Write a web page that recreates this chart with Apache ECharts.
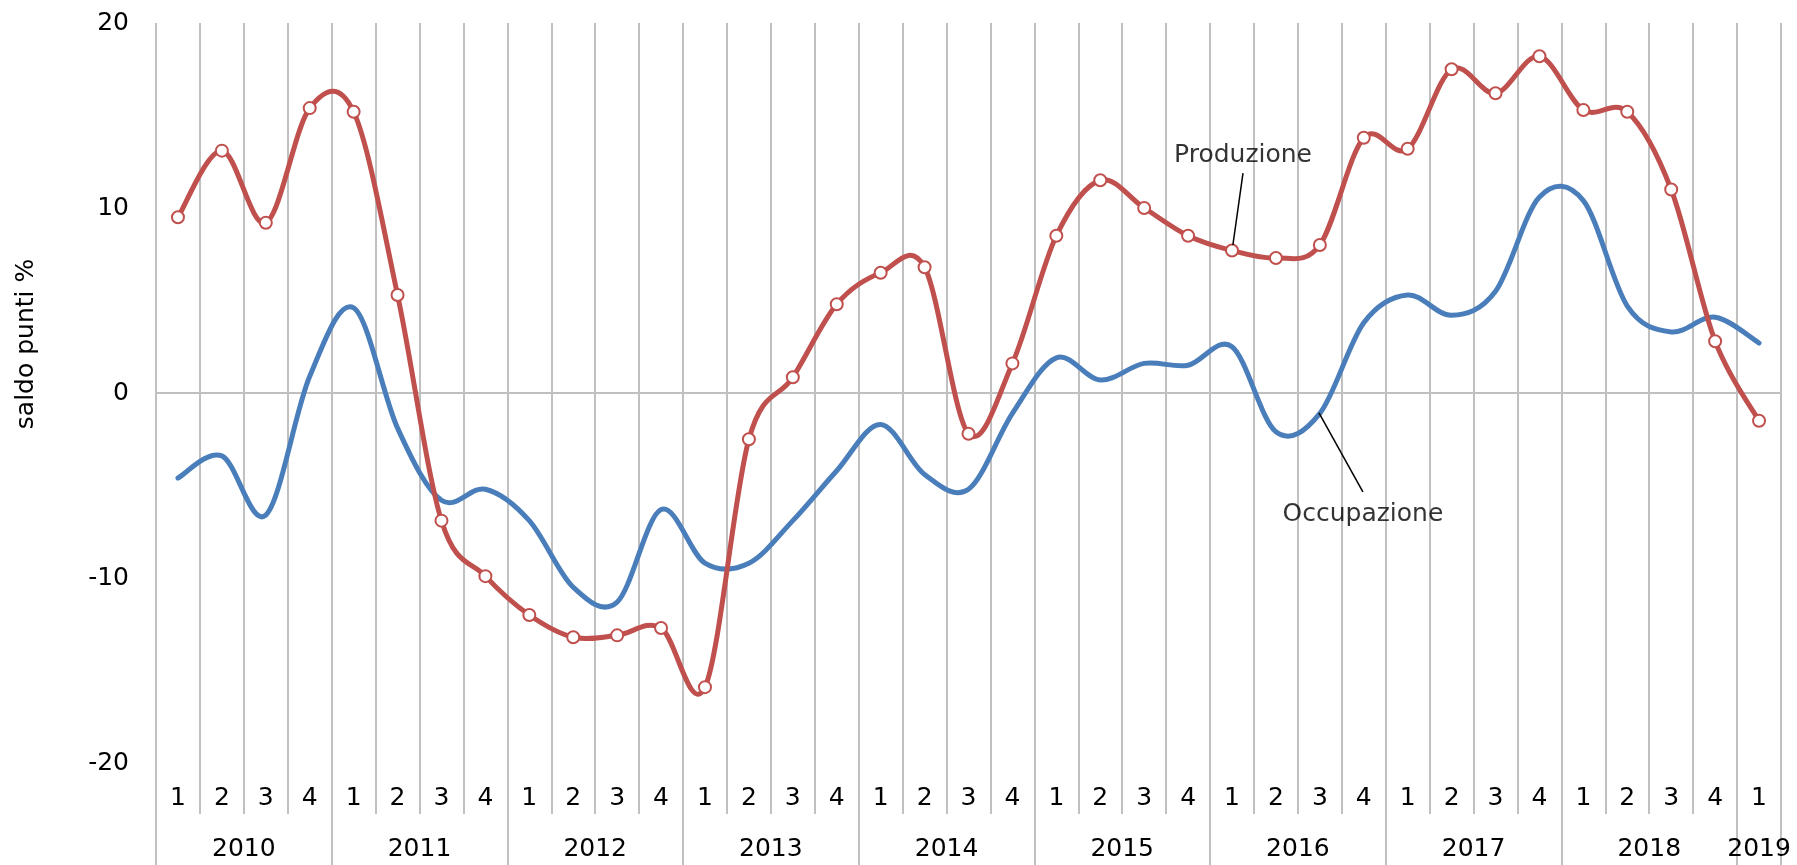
<!DOCTYPE html>
<html>
<head>
<meta charset="utf-8">
<script src="https://cdn.jsdelivr.net/npm/echarts@6/dist/echarts.min.js"></script>
<style>
html,body{margin:0;padding:0;background:#fff;}
#chart{width:1797px;height:865px;}
</style>
</head>
<body>
<div id="chart"></div>
<script>
// ---- data ----
const years = ['2010','2011','2012','2013','2014','2015','2016','2017','2018','2019'];
const quartersPerYear = [4,4,4,4,4,4,4,4,4,1];
const yTicks = {min:-20, max:20, interval:10};
const axisName = 'saldo punti %';

const produzione = [9.5, 13.1, 9.2, 15.4, 15.2, 5.3, -6.9, -9.9, -12.0, -13.2, -13.1, -12.7, -15.9,
  -2.5, 0.85, 4.8, 6.5, 6.8, -2.2, 1.6, 8.5, 11.5, 10.0, 8.5, 7.7, 7.3, 8.0,
  13.8, 13.2, 17.5, 16.2, 18.2, 15.3, 15.2, 11.0, 2.8, -1.5];
const occupazione = [-4.6, -3.4, -6.6, 0.9, 4.6, -1.9, -5.8, -5.2, -6.9, -10.5, -11.3, -6.3, -9.2,
  -9.2, -6.9, -4.2, -1.7, -4.4, -5.2, -1.1, 1.9, 0.7, 1.6, 1.5, 2.5, -2.1, -1.1,
  3.8, 5.3, 4.2, 5.5, 10.6, 10.4, 4.7, 3.3, 4.1, 2.7];

// annotation leaders (x in quarter units from the left edge, y in data units)
const prodLeader = [[24.52, 8.0], [24.75, 11.89]];
const occLeader = [[26.48, -1.08], [27.48, -5.35]];

// ---- derived axis data ----
const categories = [];
years.forEach((y, k) => { for (let q = 1; q <= quartersPerYear[k]; q++) categories.push(y + '-' + q); });
const nQ = categories.length;
const yearAxisData = new Array(nQ * 2 + 1).fill('');
const yearTickIdx = [];
let start = 0;
years.forEach((y, k) => {
  yearTickIdx.push(start * 2);
  yearAxisData[start * 2 + quartersPerYear[k]] = y;
  start += quartersPerYear[k];
});
yearTickIdx.push(nQ * 2);

const FONT = 'DejaVu Sans';
const GRID = '#c0c0c0';
const RED = '#c0504d';
const BLUE = '#4a7ebb';

// Smooth curve (Catmull-Rom, like the spreadsheet "smoothed line") through points
// obtained from the library's own coordinate system.
function smoothCurve(values, color) {
  return function (params, api) {
    const pts = values.map((v, i) => api.coord([i, v]));
    let d = 'M' + pts[0][0] + ' ' + pts[0][1];
    for (let i = 0; i < pts.length - 1; i++) {
      const p0 = pts[i - 1] || pts[i], p1 = pts[i], p2 = pts[i + 1], p3 = pts[i + 2] || pts[i + 1];
      const c1x = p1[0] + (p2[0] - p0[0]) / 6, c1y = p1[1] + (p2[1] - p0[1]) / 6;
      const c2x = p2[0] - (p3[0] - p1[0]) / 6, c2y = p2[1] - (p3[1] - p1[1]) / 6;
      d += ' C' + c1x + ' ' + c1y + ' ' + c2x + ' ' + c2y + ' ' + p2[0] + ' ' + p2[1];
    }
    return {
      type: 'path',
      shape: {pathData: d},
      style: {fill: 'none', stroke: color, lineWidth: 5, lineCap: 'round', lineJoin: 'round'}
    };
  };
}

const chart = echarts.init(document.getElementById('chart'), null, {renderer: 'canvas'});
chart.setOption({
  animation: false,
  backgroundColor: '#ffffff',
  grid: {left: 156, right: 16, top: 23, bottom: 102, show: false},
  xAxis: [
    {
      type: 'category', data: categories, position: 'bottom', boundaryGap: true,
      axisLine: {show: false, onZero: false},
      axisTick: {show: true, interval: 0, length: 51, lineStyle: {color: GRID, width: 2}},
      axisLabel: {interval: 0, margin: 23, fontSize: 25, color: '#000', fontFamily: FONT,
        formatter: v => v.split('-')[1]},
      splitLine: {show: true, interval: 0, lineStyle: {color: GRID, width: 2}}
    },
    {
      type: 'category', data: yearAxisData, position: 'bottom', boundaryGap: false,
      axisLine: {show: false, onZero: false},
      axisTick: {show: true, interval: (i) => yearTickIdx.indexOf(i) >= 0, length: 102, lineStyle: {color: GRID, width: 2}},
      axisLabel: {interval: (i, v) => v !== '', margin: 74, fontSize: 25, color: '#000', fontFamily: FONT},
      splitLine: {show: false}
    },
    {
      type: 'value', min: 0, max: nQ, position: 'bottom',
      axisLine: {show: true, onZero: true, lineStyle: {color: GRID, width: 2}},
      axisTick: {show: false}, axisLabel: {show: false}, splitLine: {show: false}
    }
  ],
  yAxis: {
    type: 'value', min: yTicks.min, max: yTicks.max, interval: yTicks.interval,
    axisLine: {show: false}, axisTick: {show: false}, splitLine: {show: false},
    axisLabel: {fontSize: 25, color: '#000', fontFamily: FONT, margin: 27},
    name: axisName, nameLocation: 'middle', nameGap: 117,
    nameTextStyle: {fontSize: 25, color: '#000', fontFamily: FONT, padding: [0, 0, 0, 98]}
  },
  series: [
    {
      name: 'Occupazione', type: 'custom', coordinateSystem: 'cartesian2d',
      xAxisIndex: 0, yAxisIndex: 0, data: [[0, occupazione[0]]], z: 2, silent: true,
      renderItem: smoothCurve(occupazione, BLUE)
    },
    {
      name: 'Produzione', type: 'custom', coordinateSystem: 'cartesian2d',
      xAxisIndex: 0, yAxisIndex: 0, data: [[0, produzione[0]]], z: 3, silent: true,
      renderItem: smoothCurve(produzione, RED)
    },
    {
      name: 'Produzione', type: 'scatter', xAxisIndex: 0, yAxisIndex: 0, z: 4, silent: true,
      data: produzione.map((v, i) => [i, v]),
      symbol: 'circle', symbolSize: 12,
      itemStyle: {color: '#ffffff', borderColor: RED, borderWidth: 2, opacity: 1}
    },
    {
      type: 'line', xAxisIndex: 2, data: prodLeader, symbol: 'none', z: 6, silent: true,
      lineStyle: {color: '#000', width: 1.5}
    },
    {
      type: 'line', xAxisIndex: 2, data: occLeader, symbol: 'none', z: 6, silent: true,
      lineStyle: {color: '#000', width: 1.5}
    },
    {
      type: 'scatter', xAxisIndex: 2, symbolSize: 1, z: 7, silent: true,
      itemStyle: {color: 'rgba(0,0,0,0)'},
      data: [
        {value: prodLeader[1], label: {show: true, position: 'top', distance: 5, formatter: 'Produzione',
          fontSize: 25, color: '#000', fontFamily: FONT}},
        {value: occLeader[1], label: {show: true, position: 'bottom', distance: 10, formatter: 'Occupazione',
          fontSize: 25, color: '#000', fontFamily: FONT}}
      ]
    }
  ]
});
</script>
</body>
</html>
